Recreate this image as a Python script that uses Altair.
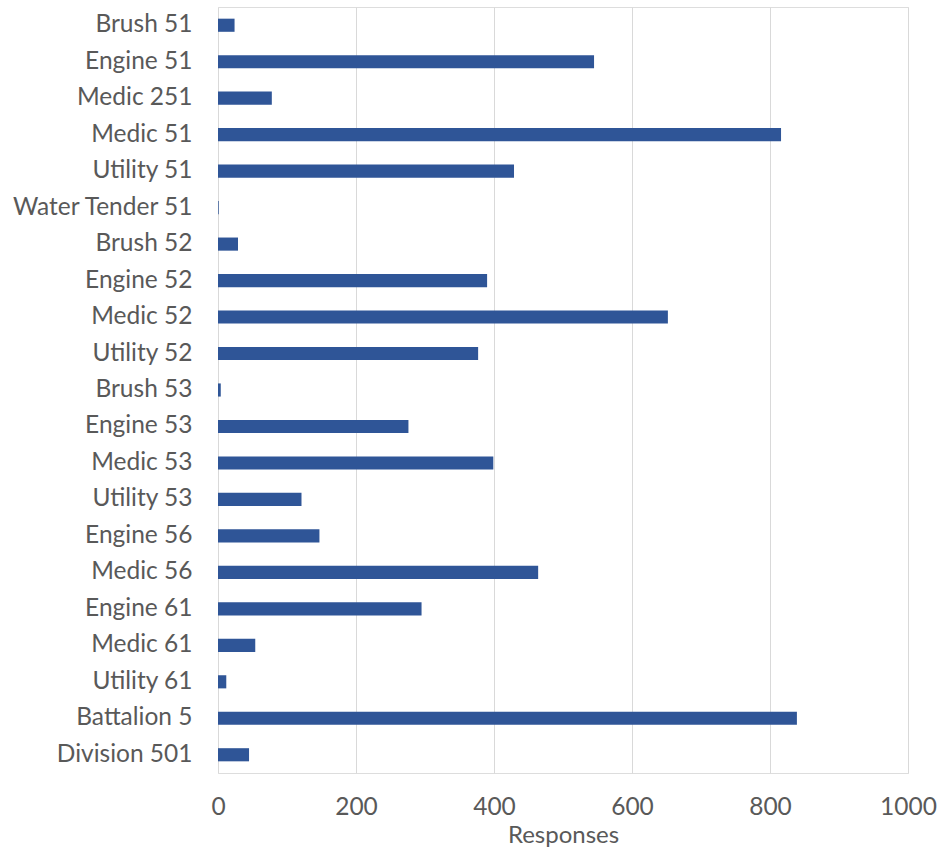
import altair as alt
import pandas as pd

units = ["Brush 51", "Engine 51", "Medic 251", "Medic 51", "Utility 51",
         "Water Tender 51", "Brush 52", "Engine 52", "Medic 52", "Utility 52",
         "Brush 53", "Engine 53", "Medic 53", "Utility 53", "Engine 56",
         "Medic 56", "Engine 61", "Medic 61", "Utility 61", "Battalion 5",
         "Division 501"]
responses = [24, 545, 78, 816, 429, 1, 29, 390, 652, 377, 4, 276, 399, 121,
             147, 464, 295, 54, 12, 839, 45]
x_ticks = [0, 200, 400, 600, 800, 1000]

df = pd.DataFrame({"Unit": units, "Responses": responses})

FONT = "Lato"
GREY = "#595959"

chart = (
    alt.Chart(df)
    .mark_bar(color="#2F5597")
    .encode(
        x=alt.X("Responses:Q",
                scale=alt.Scale(domain=[0, 1000], nice=False),
                axis=alt.Axis(values=x_ticks, format="d", title="Responses",
                              grid=True, gridColor="#D9D9D9", domain=False,
                              ticks=False, labelPadding=22, labelFontSize=24.5,
                              labelFlush=False,
                              labelColor=GREY, titleFontSize=24,
                              titleColor=GREY, titleFontWeight="normal",
                              titlePadding=5, labelFont=FONT, titleFont=FONT)),
        y=alt.Y("Unit:N", sort=units,
                scale=alt.Scale(paddingInner=0.64, paddingOuter=0.32),
                axis=alt.Axis(title=None, domain=False, ticks=False,
                              labelPadding=26, labelFontSize=24.5,
                              labelColor=GREY, labelFont=FONT,
                              labelLimit=300)),
    )
    .properties(
        width=690, height=766,
        autosize=alt.AutoSizeParams(type="none"),
        padding={"left": 218, "top": 7, "right": 30, "bottom": 77},
    )
    .configure_view(stroke="transparent", strokeWidth=0)
    .configure(background="white")
)

chart.save("out.html", embed_options={"renderer": "svg", "actions": False})
